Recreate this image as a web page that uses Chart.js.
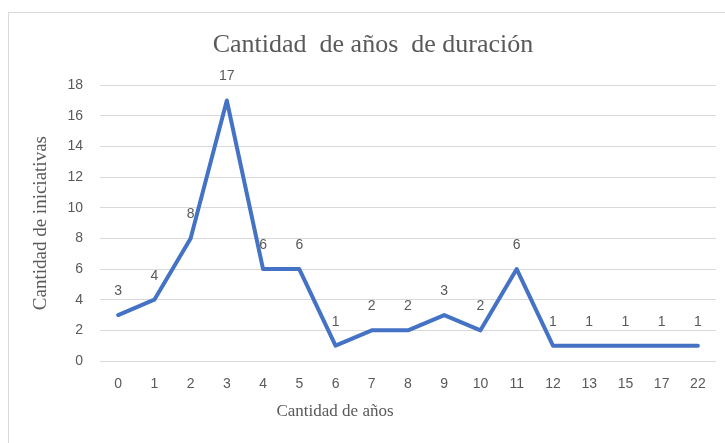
<!DOCTYPE html>
<html>
<head>
<meta charset="utf-8">
<script src="https://cdn.jsdelivr.net/npm/chart.js@4/dist/chart.umd.min.js"></script>
<style>
  body { margin: 0; background: #fff; overflow: hidden; }
  .frame { position: absolute; left: 8px; top: 12px; width: 800px; height: 500px; border: 1px solid #d9d9d9; }
  .wrap { position: absolute; left: 0; top: 0; width: 725px; height: 443px; }
</style>
</head>
<body>
<div class="frame"></div>
<div class="wrap"><canvas id="duration-chart"></canvas></div>
<script>
const years = ['0', '1', '2', '3', '4', '5', '6', '7', '8', '9', '10', '11', '12', '13', '15', '17', '22'];
const initiatives = [3, 4, 8, 17, 6, 6, 1, 2, 2, 3, 2, 6, 1, 1, 1, 1, 1];
const yTicks = [0, 2, 4, 6, 8, 10, 12, 14, 16, 18];

const grey = '#595959';

// value labels above each point
const pointLabels = {
    id: 'pointLabels',
    afterDatasetsDraw(chart) {
        const ctx = chart.ctx;
        const meta = chart.getDatasetMeta(0);
        ctx.save();
        ctx.font = '14px "Liberation Sans", Arial, sans-serif';
        ctx.fillStyle = grey;
        ctx.textAlign = 'center';
        ctx.textBaseline = 'middle';
        meta.data.forEach((pt, i) => {
            ctx.fillText(String(initiatives[i]), pt.x, pt.y - 24);
        });
        ctx.restore();
    }
};

// x axis title, placed like the original (left of centre)
const xTitle = {
    id: 'xTitle',
    afterDraw(chart) {
        const ctx = chart.ctx;
        ctx.save();
        ctx.font = '17px "Liberation Serif", "Times New Roman", serif';
        ctx.fillStyle = grey;
        ctx.textAlign = 'center';
        ctx.textBaseline = 'middle';
        ctx.fillText('Cantidad de años', 335, 412);
        ctx.restore();
    }
};

const ctx = document.getElementById('duration-chart').getContext('2d');
new Chart(ctx, {
    type: 'line',
    data: {
        labels: years,
        datasets: [{
            label: 'Cantidad de iniciativas',
            data: initiatives,
            borderColor: '#4472C4',
            backgroundColor: '#4472C4',
            borderWidth: 4,
            borderCapStyle: 'round',
            borderJoinStyle: 'round',
            pointRadius: 0,
            pointHoverRadius: 0,
            tension: 0,
            fill: false
        }]
    },
    options: {
        responsive: true,
        maintainAspectRatio: false,
        animation: false,
        layout: { padding: { left: 30, right: 9, top: 0, bottom: 0 } },
        plugins: {
            legend: { display: false },
            tooltip: { enabled: false },
            title: {
                display: true,
                text: 'Cantidad  de años  de duración',
                color: grey,
                font: { family: '"Liberation Serif", "Times New Roman", serif', size: 26, weight: 'normal' },
                padding: { top: 30, bottom: 24 }
            }
        },
        scales: {
            x: {
                offset: true,
                grid: { display: false, drawTicks: false },
                border: { display: false },
                ticks: {
                    color: grey,
                    padding: 15,
                    maxRotation: 0,
                    autoSkip: false,
                    font: { family: '"Liberation Sans", Arial, sans-serif', size: 14 }
                },
                afterFit(scale) { scale.height = 82; }
            },
            y: {
                min: 0,
                max: 18,
                afterBuildTicks(scale) { scale.ticks = yTicks.map(v => ({ value: v })); },
                grid: { color: '#d9d9d9', lineWidth: 1, drawTicks: false },
                border: { display: false },
                ticks: {
                    color: grey,
                    padding: 17,
                    font: { family: '"Liberation Sans", Arial, sans-serif', size: 14 }
                },
                title: {
                    display: true,
                    text: 'Cantidad de iniciativas',
                    color: grey,
                    padding: { top: 0, bottom: 0 },
                    font: { family: '"Liberation Serif", "Times New Roman", serif', size: 19 }
                },
                afterFit(scale) { scale.width = 70; }
            }
        }
    },
    plugins: [pointLabels, xTitle]
});
</script>
</body>
</html>
